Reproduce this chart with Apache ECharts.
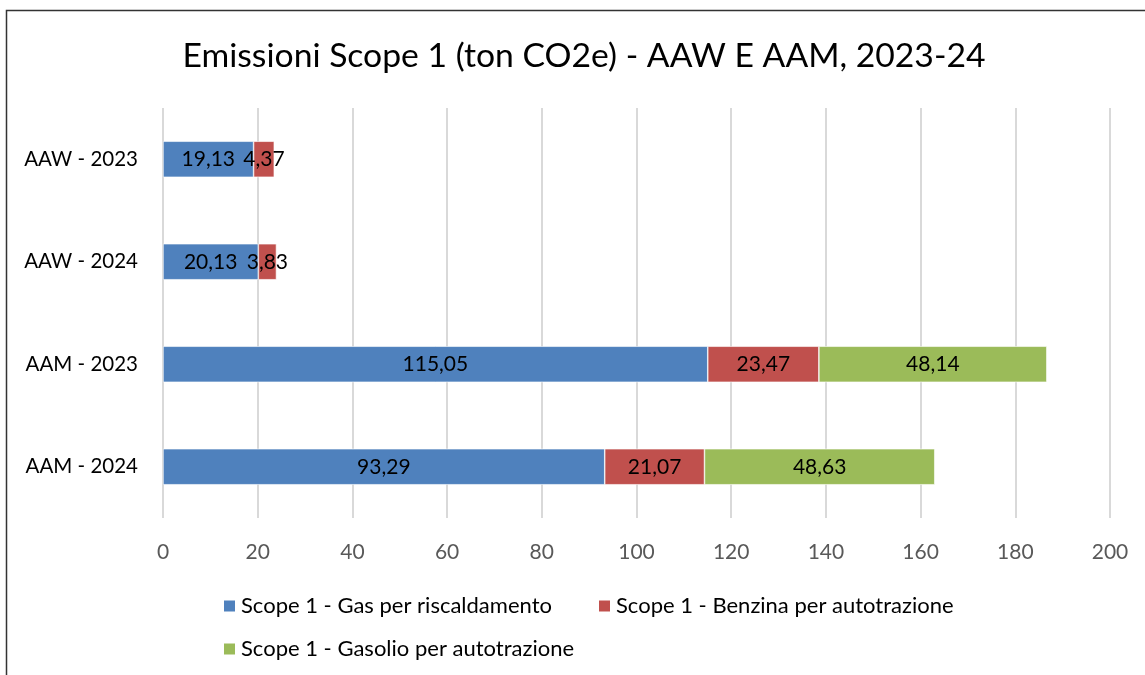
<!DOCTYPE html>
<html>
<head>
<meta charset="utf-8">
<script src="https://cdn.jsdelivr.net/npm/echarts@6/dist/echarts.min.js"></script>
<style>
  html, body { margin: 0; padding: 0; background: #fff; }
  #main { width: 1145px; height: 675px; }
</style>
</head>
<body>
<div id="main"></div>
<script>
var categories = ["AAW - 2023", "AAW - 2024", "AAM - 2023", "AAM - 2024"];
var seriesNames = ["Scope 1 - Gas per riscaldamento", "Scope 1 - Benzina per autotrazione", "Scope 1 - Gasolio per autotrazione"];
var gasData = [19.13, 20.13, 115.05, 93.29];
var benzinaData = [4.37, 3.83, 23.47, 21.07];
var gasolioData = [null, null, 48.14, 48.63];

var chart = echarts.init(document.getElementById("main"), null, { renderer: "canvas" });

var font = "Lato, 'Liberation Sans', sans-serif";

function fmt(p) {
  if (p.value == null) return "";
  return p.value.toFixed(2).replace(".", ",");
}

function bar(name, data, color) {
  return {
    name: name,
    type: "bar",
    stack: "tot",
    barWidth: 36,
    data: data,
    itemStyle: { color: color, borderColor: "#ffffff", borderWidth: 0.6 },
    label: {
      show: true,
      position: "inside",
      formatter: fmt,
      color: "#000",
      fontSize: 21,
      fontFamily: font
    }
  };
}

function legendItem(name, left, top) {
  return {
    data: [name],
    left: left,
    top: top,
    itemWidth: 13,
    itemHeight: 13,
    icon: "rect",
    textStyle: { fontSize: 22, color: "#000", fontFamily: font }
  };
}

var option = {
  backgroundColor: "#fff",
  animation: false,
  textStyle: { fontFamily: font },
  color: ["#4F81BD", "#C0504D", "#9BBB59"],
  title: {
    text: "Emissioni Scope 1 (ton CO2e) - AAW E AAM, 2023-24",
    left: 584,
    top: 34,
    textAlign: "center",
    textStyle: { fontSize: 33.7, fontWeight: "normal", color: "#000", fontFamily: font }
  },
  graphic: [{
    type: "rect",
    shape: { x: 6.5, y: 10.5, width: 1160, height: 700 },
    style: { fill: "none", stroke: "#333", lineWidth: 1.5 },
    silent: true
  }],
  legend: [
    legendItem(seriesNames[0], 217, 590),
    legendItem(seriesNames[1], 592, 590),
    legendItem(seriesNames[2], 217, 633)
  ],
  grid: { left: 163, right: 35, top: 108, bottom: 157, containLabel: false },
  xAxis: {
    type: "value",
    min: 0,
    max: 200,
    interval: 20,
    axisLine: { show: false },
    axisTick: { show: false },
    splitLine: { show: true, lineStyle: { color: "#D9D9D9", width: 2 } },
    axisLabel: { color: "#595959", fontSize: 21, margin: 24, fontFamily: font }
  },
  yAxis: {
    type: "category",
    inverse: true,
    data: categories,
    axisLine: { show: false },
    axisTick: { show: false },
    axisLabel: { color: "#000", fontSize: 20.5, margin: 25, fontFamily: font }
  },
  series: [
    bar(seriesNames[0], gasData, "#4F81BD"),
    bar(seriesNames[1], benzinaData, "#C0504D"),
    bar(seriesNames[2], gasolioData, "#9BBB59")
  ]
};

option.title.left = 579;
chart.setOption(option);
</script>
</body>
</html>
